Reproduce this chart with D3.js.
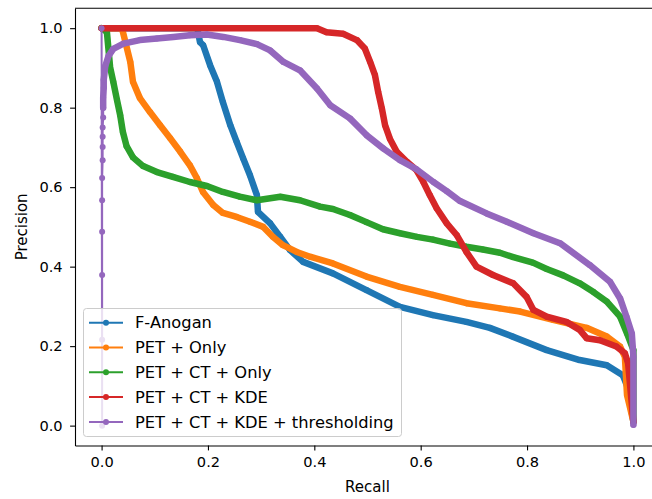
<!DOCTYPE html>
<html>
<head>
<meta charset="utf-8">
<script src="https://cdn.jsdelivr.net/npm/d3@7"></script>
<style>
  html, body { margin: 0; padding: 0; background: #fff; }
  svg { display: block; font-family: "DejaVu Sans", sans-serif; }
</style>
</head>
<body>
<div id="chart"></div>
<script>
// Series values ([recall, precision])
const fAnogan = [
  [0, 1.0], [0.18, 1.0], [0.185, 0.965], [0.191, 0.957], [0.204, 0.907], [0.217, 0.865],
  [0.228, 0.814], [0.242, 0.756], [0.254, 0.714], [0.266, 0.673], [0.279, 0.630],
  [0.292, 0.580], [0.294, 0.538], [0.317, 0.509], [0.336, 0.475], [0.354, 0.442],
  [0.379, 0.412], [0.435, 0.383], [0.498, 0.341], [0.561, 0.299], [0.623, 0.278],
  [0.686, 0.261], [0.730, 0.246], [0.773, 0.224], [0.837, 0.190], [0.899, 0.165],
  [0.950, 0.152], [0.980, 0.127], [0.988, 0.100], [1.0, 0.01]
];
const petOnly = [
  [0, 1.0], [0.040, 1.0], [0.040, 0.991], [0.054, 0.915], [0.059, 0.865], [0.072, 0.824],
  [0.091, 0.789], [0.110, 0.756], [0.129, 0.723], [0.148, 0.689], [0.166, 0.655],
  [0.179, 0.623], [0.191, 0.587], [0.210, 0.555], [0.228, 0.535], [0.254, 0.525],
  [0.279, 0.513], [0.304, 0.500], [0.322, 0.475], [0.341, 0.454], [0.367, 0.437],
  [0.392, 0.425], [0.435, 0.408], [0.498, 0.375], [0.561, 0.349], [0.623, 0.329],
  [0.686, 0.308], [0.749, 0.295], [0.787, 0.287], [0.849, 0.266], [0.912, 0.246],
  [0.950, 0.224], [0.975, 0.199], [0.984, 0.173], [0.988, 0.077], [1.0, 0.01]
];
const petCtOnly = [
  [0, 1.0], [0.010, 0.990], [0.016, 0.902], [0.022, 0.865], [0.029, 0.819], [0.035, 0.781],
  [0.040, 0.739], [0.047, 0.703], [0.059, 0.675], [0.078, 0.653], [0.104, 0.638],
  [0.134, 0.626], [0.166, 0.613], [0.198, 0.603], [0.228, 0.588], [0.260, 0.576],
  [0.292, 0.567], [0.336, 0.576], [0.373, 0.567], [0.411, 0.551], [0.435, 0.545],
  [0.467, 0.530], [0.498, 0.512], [0.529, 0.494], [0.561, 0.484], [0.593, 0.475],
  [0.623, 0.468], [0.655, 0.458], [0.686, 0.450], [0.717, 0.443], [0.749, 0.435],
  [0.774, 0.424], [0.811, 0.410], [0.837, 0.394], [0.868, 0.378], [0.899, 0.358],
  [0.925, 0.336], [0.950, 0.312], [0.975, 0.274], [0.988, 0.232], [1.0, 0.19], [1.0, 0.01]
];
const petCtKde = [
  [0, 1.0], [0.405, 1.0], [0.423, 0.990], [0.454, 0.986], [0.480, 0.970], [0.495, 0.949],
  [0.505, 0.915], [0.514, 0.882], [0.520, 0.840], [0.527, 0.798], [0.533, 0.756],
  [0.542, 0.722], [0.555, 0.689], [0.574, 0.664], [0.592, 0.643], [0.605, 0.613],
  [0.617, 0.580], [0.630, 0.547], [0.649, 0.509], [0.668, 0.479], [0.686, 0.437],
  [0.705, 0.400], [0.736, 0.379], [0.774, 0.358], [0.799, 0.324], [0.812, 0.291],
  [0.837, 0.274], [0.874, 0.261], [0.899, 0.241], [0.912, 0.220], [0.937, 0.215],
  [0.968, 0.199], [0.984, 0.182], [0.990, 0.157], [1.0, 0.01]
];
const petCtKdeThr = [
  [0, 1.0], [0.001, 0.0], [0.001, 0.216], [0.001, 0.379], [0.001, 0.488], [0.001, 0.567],
  [0.001, 0.623], [0.002, 0.668], [0.002, 0.701], [0.002, 0.727], [0.002, 0.750],
  [0.003, 0.775], [0.003, 0.800], [0.003, 0.825], [0.004, 0.850], [0.004, 0.870],
  [0.007, 0.905], [0.013, 0.930], [0.022, 0.948], [0.041, 0.961], [0.072, 0.970],
  [0.104, 0.974], [0.135, 0.978], [0.166, 0.982], [0.198, 0.984], [0.229, 0.978],
  [0.260, 0.970], [0.292, 0.960], [0.317, 0.944], [0.342, 0.915], [0.373, 0.894],
  [0.405, 0.848], [0.430, 0.806], [0.467, 0.773], [0.498, 0.731], [0.530, 0.697],
  [0.561, 0.668], [0.592, 0.645], [0.624, 0.613], [0.649, 0.590], [0.674, 0.565],
  [0.724, 0.534], [0.762, 0.513], [0.812, 0.484], [0.862, 0.459], [0.918, 0.404],
  [0.956, 0.362], [0.975, 0.320], [0.987, 0.274], [0.997, 0.232], [1.0, 0.173], [1.0, 0.002]
];

const seriesNames = ['F-Anogan', 'PET + Only', 'PET + CT + Only', 'PET + CT + KDE', 'PET + CT + KDE + thresholding'];
const seriesValues = [fAnogan, petOnly, petCtOnly, petCtKde, petCtKdeThr];
const seriesColors = ['#1f77b4', '#ff7f0e', '#2ca02c', '#d62728', '#9467bd'];
// index where the dense (thick marker band) part of each curve starts
const denseFrom = [0, 0, 0, 0, 12];

const tickValues = [0, 0.2, 0.4, 0.6, 0.8, 1.0];

const W = 652, H = 499;
const box = { left: 75, right: 660, top: 8.3, bottom: 445.5 };

const svg = d3.select('#chart').append('svg')
  .attr('width', W)
  .attr('height', H);

const x = d3.scaleLinear().domain([-0.05, 1.05]).range([box.left, box.right]);
const y = d3.scaleLinear().domain([-0.05, 1.05]).range([box.bottom, box.top]);

const line = d3.line().x(d => x(d[0])).y(d => y(d[1]));

// Curves
seriesValues.forEach((vals, i) => {
  const g = svg.append('g').attr('class', 'series');
  const color = seriesColors[i];

  // dense markers merge into a thick band
  g.append('path')
    .attr('d', line(vals.slice(denseFrom[i])))
    .attr('fill', 'none')
    .attr('stroke', color)
    .attr('stroke-width', 6.5)
    .attr('stroke-linejoin', 'round')
    .attr('stroke-linecap', 'round');

  g.append('path')
    .attr('d', line(vals))
    .attr('fill', 'none')
    .attr('stroke', color)
    .attr('stroke-width', 2);

  g.selectAll('circle')
    .data(vals)
    .enter()
    .append('circle')
    .attr('cx', d => x(d[0]))
    .attr('cy', d => y(d[1]))
    .attr('r', 3)
    .attr('fill', color);
});

// Axes
const fmt = d3.format('.1f');
const xAxis = svg.append('g')
  .attr('transform', `translate(0,${box.bottom})`)
  .call(d3.axisBottom(x).tickValues(tickValues).tickFormat(fmt)
    .tickSizeInner(4.9).tickSizeOuter(0).tickPadding(6));
const yAxis = svg.append('g')
  .attr('transform', `translate(${box.left},0)`)
  .call(d3.axisLeft(y).tickValues(tickValues).tickFormat(fmt)
    .tickSizeInner(4.9).tickSizeOuter(0).tickPadding(7.5));

[xAxis, yAxis].forEach(a => {
  a.selectAll('text')
    .attr('font-family', '"DejaVu Sans", sans-serif')
    .attr('font-size', '14.6px')
    .attr('fill', '#000');
  a.selectAll('line').attr('stroke', '#000').attr('stroke-width', 1.1);
  a.select('.domain').attr('stroke', '#000').attr('stroke-width', 1.1);
});

// top spine
svg.append('line')
  .attr('x1', box.left).attr('x2', box.right)
  .attr('y1', box.top).attr('y2', box.top)
  .attr('stroke', '#000').attr('stroke-width', 1.1);

// Axis labels
svg.append('text')
  .attr('x', (box.left + box.right) / 2)
  .attr('y', 492)
  .attr('text-anchor', 'middle')
  .attr('font-size', '15px')
  .text('Recall');

svg.append('text')
  .attr('transform', `translate(27,${(box.top + box.bottom) / 2}) rotate(-90)`)
  .attr('text-anchor', 'middle')
  .attr('font-size', '15px')
  .text('Precision');

// Legend
const legend = svg.append('g').attr('class', 'legend');
legend.append('rect')
  .attr('x', 83.5).attr('y', 308.5)
  .attr('width', 318).attr('height', 128)
  .attr('rx', 3)
  .attr('fill', 'rgba(255,255,255,0.8)')
  .attr('stroke', '#cccccc')
  .attr('stroke-width', 1);

seriesNames.forEach((name, i) => {
  const ly = 322.7 + i * 24.8;
  legend.append('line')
    .attr('x1', 89).attr('x2', 123)
    .attr('y1', ly).attr('y2', ly)
    .attr('stroke', seriesColors[i])
    .attr('stroke-width', 2);
  legend.append('circle')
    .attr('cx', 106).attr('cy', ly)
    .attr('r', 3)
    .attr('fill', seriesColors[i]);
  legend.append('text')
    .attr('x', 135)
    .attr('y', ly)
    .attr('dy', '0.35em')
    .attr('font-size', '16.3px')
    .attr('fill', '#000')
    .text(name);
});
</script>
</body>
</html>
